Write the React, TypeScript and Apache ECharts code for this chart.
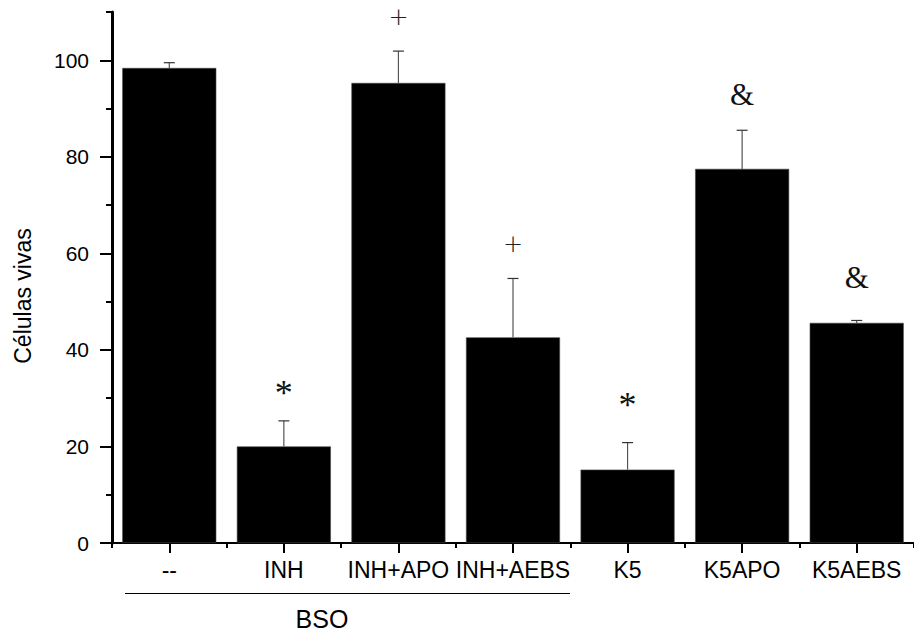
import React, { useEffect, useRef } from "react";
import * as echarts from "echarts";

const categories = ["--", "INH", "INH+APO", "INH+AEBS", "K5", "K5APO", "K5AEBS"];
const means = [98.4, 20.0, 95.3, 42.6, 15.2, 77.5, 45.6];
const errors = [1.1, 5.3, 6.6, 12.2, 5.6, 8.0, 0.5];
const markers = ["", "*", "+", "+", "*", "&", "&"];
const markerLevels = [null, 31, 109, 62, 28.5, 93, 55];
const yMajorTicks = [0, 20, 40, 60, 80, 100];
const yMax = 110;
const yMinorStep = 10;
const yTitle = "Células vivas";
const groupLabel = "BSO";

export default function App() {
  const ref = useRef<HTMLDivElement>(null);

  useEffect(() => {
    if (!ref.current) return;
    const chart = echarts.init(ref.current, null, { renderer: "svg" });

    const errData = means.map((m, i) => [i, m, errors[i]]);
    const markData = markers
      .map((t, i) => (t ? [i, markerLevels[i] as number] : null))
      .filter((d) => d !== null) as number[][];
    const markText = markers.filter((t) => t);

    const option: any = {
      animation: false,
      backgroundColor: "#ffffff",
      grid: { left: 112, right: -3, top: 12, bottom: 89, containLabel: false },
      xAxis: [
        {
          type: "category",
          data: categories,
          position: "bottom",
          axisLine: { show: true, lineStyle: { color: "#000", width: 2 } },
          axisTick: { show: true, alignWithLabel: true, length: 10, lineStyle: { color: "#000", width: 2 } },
          axisLabel: {
            show: true,
            color: "#000",
            fontFamily: "Liberation Sans",
            fontSize: 23,
            margin: 15,
            interval: 0,
          },
          splitLine: { show: false },
        },
        {
          type: "category",
          data: categories,
          position: "bottom",
          axisLine: { show: false },
          axisTick: { show: true, alignWithLabel: false, length: 5, lineStyle: { color: "#000", width: 2 } },
          axisLabel: { show: false },
          splitLine: { show: false },
        },
      ],
      yAxis: [
        {
          type: "value",
          min: 0,
          max: yMax,
          interval: yMinorStep,
          position: "left",
          axisLine: { show: true, lineStyle: { color: "#000", width: 3 } },
          axisTick: { show: true, length: 6, lineStyle: { color: "#000", width: 2 } },
          axisLabel: { show: false },
          splitLine: { show: false },
        },
        {
          type: "value",
          min: 0,
          max: yMax,
          interval: 20,
          position: "left",
          axisLine: { show: false },
          axisTick: { show: true, length: 12, customValues: yMajorTicks, lineStyle: { color: "#000", width: 2 } },
          axisLabel: {
            show: true,
            customValues: yMajorTicks,
            color: "#000",
            fontFamily: "Liberation Sans",
            fontSize: 21,
            margin: 23,
          },
          splitLine: { show: false },
        },
      ],
      series: [
        {
          type: "bar",
          data: means,
          xAxisIndex: 0,
          yAxisIndex: 0,
          barWidth: 94,
          itemStyle: { color: "#000", borderColor: "#444", borderWidth: 0.6 },
          z: 2,
        },
        {
          type: "custom",
          xAxisIndex: 0,
          yAxisIndex: 0,
          data: errData,
          z: 3,
          renderItem: (params: any, api: any) => {
            const i = api.value(0);
            const m = api.value(1);
            const e = api.value(2);
            const base = api.coord([i, m]);
            const top = api.coord([i, m + e]);
            return {
              type: "group",
              children: [
                {
                  type: "line",
                  shape: { x1: base[0], y1: base[1], x2: top[0], y2: top[1] },
                  style: { stroke: "#555", lineWidth: 1.2 },
                },
                {
                  type: "line",
                  shape: { x1: top[0] - 5.5, y1: top[1], x2: top[0] + 5.5, y2: top[1] },
                  style: { stroke: "#333", lineWidth: 1.2 },
                },
              ],
            };
          },
        },
        {
          type: "custom",
          xAxisIndex: 0,
          yAxisIndex: 0,
          data: markData,
          z: 4,
          renderItem: (params: any, api: any) => {
            const p = api.coord([api.value(0), api.value(1)]);
            const t = markText[params.dataIndex];
            let size = 31;
            let fam = "Liberation Serif";
            let weight: any = "normal";
            let fill = "#111";
            if (t === "*") size = 36;
            if (t === "+") {
              size = 24;
              fam = "DejaVu Sans";
              weight = 200;
              fill = "#222";
            }
            return {
              type: "text",
              x: p[0],
              y: p[1],
              style: {
                text: t,
                fill,
                font: `${weight} ${size}px "${fam}"`,
                align: "center",
                verticalAlign: "middle",
              },
            };
          },
        },
      ],
      graphic: [
        {
          type: "text",
          x: 23,
          y: 296,
          rotation: Math.PI / 2,
          style: {
            text: yTitle,
            fill: "#000",
            font: '23px "Liberation Sans"',
            align: "center",
            verticalAlign: "middle",
          },
        },
        {
          type: "line",
          shape: { x1: 125, y1: 593.5, x2: 570, y2: 593.5 },
          style: { stroke: "#000", lineWidth: 1.2 },
        },
        {
          type: "text",
          x: 322,
          y: 619,
          style: {
            text: groupLabel,
            fill: "#000",
            font: '25px "Liberation Sans"',
            align: "center",
            verticalAlign: "middle",
          },
        },
      ],
    };

    chart.setOption(option);
    return () => chart.dispose();
  }, []);

  return (
    <div
      ref={ref}
      style={{ position: "absolute", left: 0, top: 0, width: 914, height: 632, overflow: "hidden" }}
    />
  );
}
